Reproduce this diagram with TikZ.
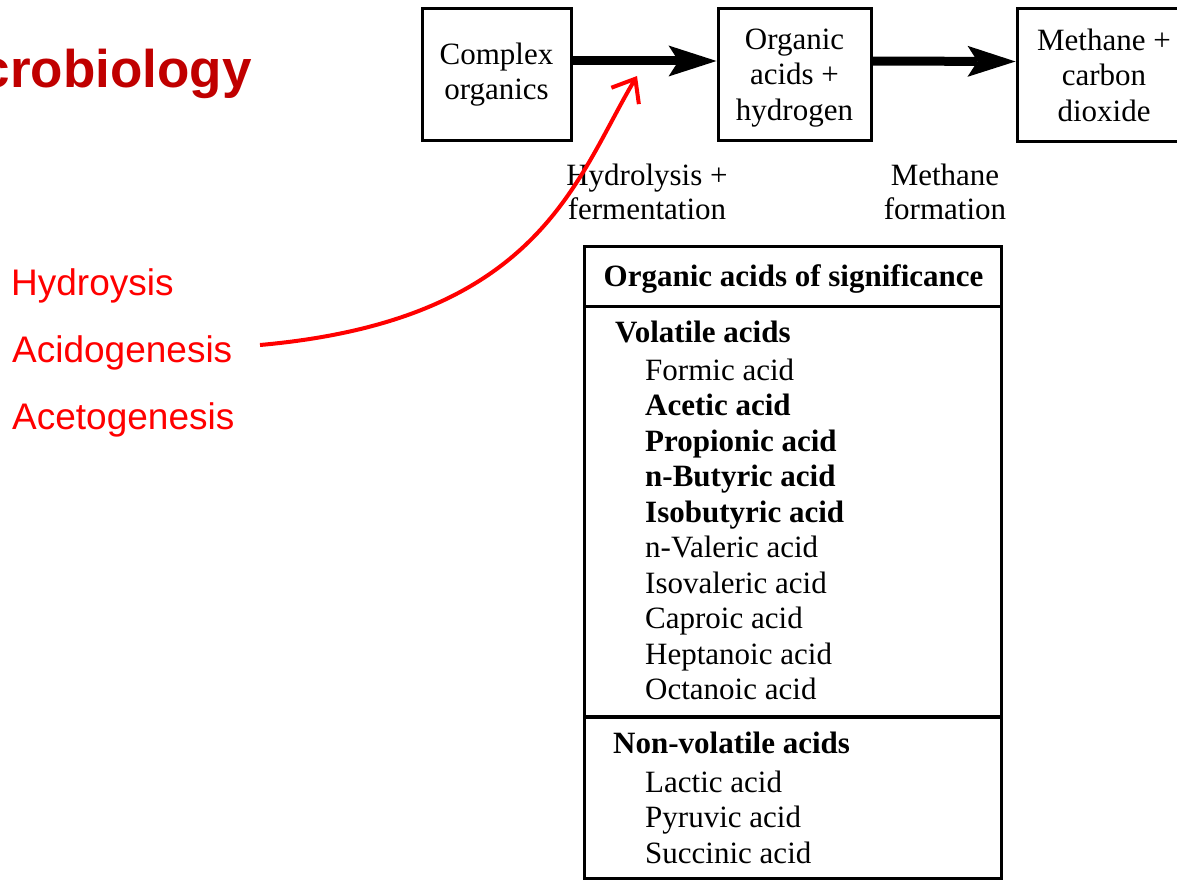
\documentclass[tikz,border=0pt]{standalone}
\usepackage{fontspec}
\setmainfont{Liberation Serif}
\newfontfamily\arialfont{Liberation Sans}
\usetikzlibrary{arrows.meta}
\definecolor{titlered}{RGB}{192,0,0}
\definecolor{labelred}{RGB}{255,0,0}
\newcommand{\nodepth}[1]{\raisebox{0pt}[\height][0pt]{#1}}
\begin{document}
\begin{tikzpicture}[x=1pt,y=-1pt,
  box/.style={draw, line width=3pt, inner sep=0pt, align=center, font=\fontsize{31}{35.5}\selectfont},
  flowarrow/.style={line width=9pt, -{Stealth[length=48pt 0,width=31pt 0,inset=10pt 0,line width=0pt]}},
  steplabel/.style={align=center, inner sep=0pt, font=\fontsize{31}{34.5}\selectfont},
  acid/.style={anchor=base west, inner sep=0pt, font=\fontsize{31}{34.5}\selectfont},
  acidbold/.style={anchor=base west, inner sep=0pt, font=\fontsize{31}{34.5}\selectfont\bfseries},
  phase/.style={anchor=base west, inner sep=0pt, text=labelred, font=\arialfont\fontsize{37}{40}\selectfont},
  redarrow/.style={draw=labelred, line width=4pt, -{Straight Barb[length=20pt 0,width=32pt 0]}},
  tableline/.style={line width=3pt}
]
\useasboundingbox (0,0) rectangle (1177,880);
\clip (0,0) rectangle (1177,880);

% title
\node[anchor=base east, inner sep=0pt, text=titlered, font=\arialfont\bfseries\fontsize{53}{60}\selectfont] (title) at (252,88) {crobiology};

% red phase labels
\node[phase] (hydroysis) at (11,295) {Hydroysis};
\node[phase] (acido) at (12,362) {Acidogenesis};
\node[phase] (aceto) at (12,429) {Acetogenesis};

% flow boxes
\node[box, minimum width=149pt, minimum height=131pt] (complex) at (496.5,74.5) {Complex\\organics};
\node[box, minimum width=153pt, minimum height=131pt] (acids) at (794.5,74.5) {Organic\\acids +\\\nodepth{hydrogen}};
\node[box, minimum width=174pt, minimum height=132pt] (methane) at (1104,75) {Methane +\\carbon\\dioxide};

\draw[flowarrow] ([yshift=13.5pt]complex.east) -- ([yshift=13.5pt]acids.west);
\draw[flowarrow] ([yshift=13.5pt]acids.east) -- ([yshift=13.5pt]methane.west);

\node[steplabel] (hydrolab) at (647,192) {Hydrolysis +\\fermentation};
\node[steplabel] (methlab) at (945,192) {Methane\\formation};

% table
\node[draw, line width=3pt, minimum width=416.5pt, minimum height=632pt, inner sep=0pt] (table) at (792.75,562) {};
\coordinate (div1) at (0,306);
\coordinate (div2) at (0,717);
\draw[tableline] (table.west |- div1) -- (table.east |- div1);
\draw[line width=3.5pt] (table.west |- div2) -- (table.east |- div2);

\node[anchor=base, inner sep=0pt, font=\fontsize{31}{34.5}\selectfont\bfseries] (ttitle) at (793.5,286) {Organic acids of significance};

\node[acidbold] (volatile) at (615,342) {Volatile acids};
\node[acid] (formic) at (645,380) {Formic acid};
\node[acidbold] (acetic) at (645,415.5) {Acetic acid};
\node[acidbold] (propionic) at (645,451) {Propionic acid};
\node[acidbold] (nbutyric) at (645,486.5) {n-Butyric acid};
\node[acidbold] (isobutyric) at (645,522) {Isobutyric acid};
\node[acid] (nvaleric) at (645,557.5) {n-Valeric acid};
\node[acid] (isovaleric) at (645,593) {Isovaleric acid};
\node[acid] (caproic) at (645,628.5) {Caproic acid};
\node[acid] (heptanoic) at (645,664) {Heptanoic acid};
\node[acid] (octanoic) at (645,699.5) {Octanoic acid};

\node[acidbold] (nonvolatile) at (613,753) {Non-volatile acids};
\node[acid] (lactic) at (645,792) {Lactic acid};
\node[acid] (pyruvic) at (645,827.5) {Pyruvic acid};
\node[acid] (succinic) at (645,863) {Succinic acid};

% red pointer
\coordinate (redstart) at (260,345);
\coordinate (redtip) at (637,76);
\draw[redarrow] (redstart) .. controls (540,320) and (575,180) .. (redtip);
\end{tikzpicture}
\end{document}
